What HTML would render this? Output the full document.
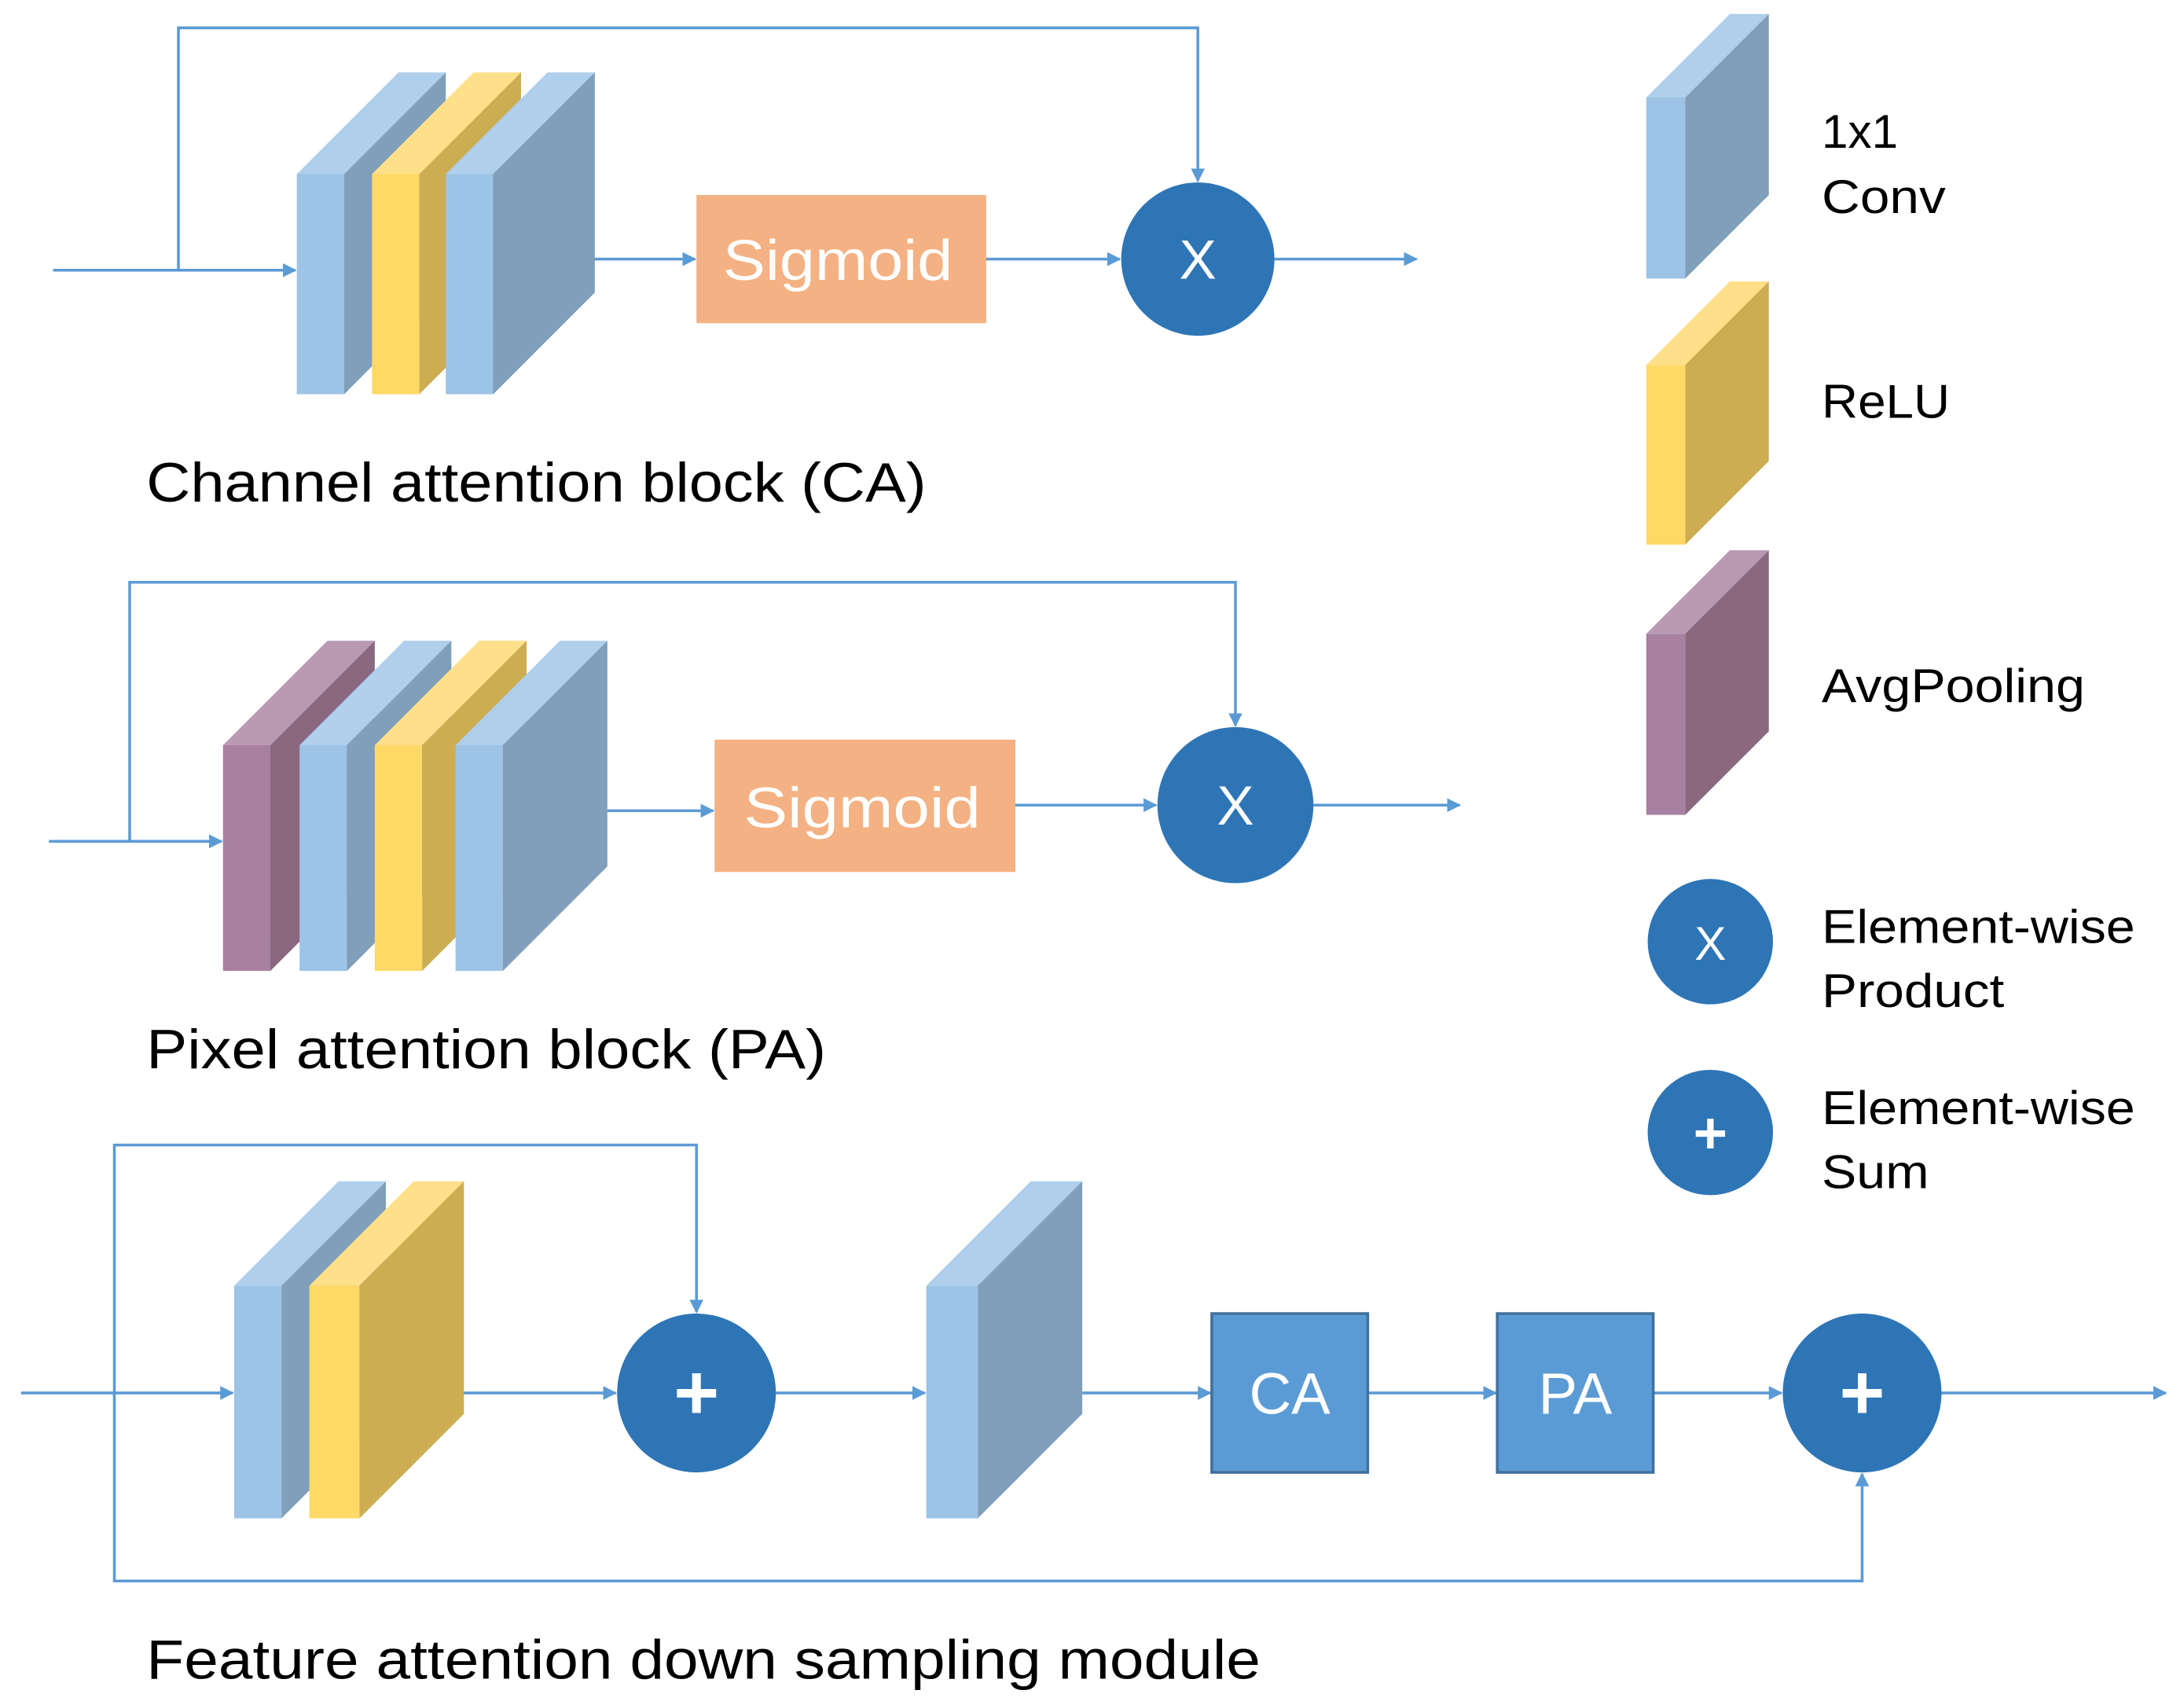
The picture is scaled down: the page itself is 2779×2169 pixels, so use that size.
<!DOCTYPE html>
<html><head><meta charset="utf-8"><style>
html,body{margin:0;padding:0;background:#fff;}
svg{display:block;}
text{font-family:"Liberation Sans",sans-serif;}
</style></head><body>
<svg width="2779" height="2169" viewBox="0 0 1568 1224" xmlns="http://www.w3.org/2000/svg">
<defs>
<marker id="a" markerWidth="10" markerHeight="10" refX="9" refY="5" orient="auto" markerUnits="userSpaceOnUse">
<path d="M0,0 L10,5 L0,10 z" fill="#5B9BD5"/></marker>
</defs>
<g stroke="#5B9BD5" stroke-width="2" fill="none">
<line x1="38" y1="194" x2="212" y2="194" marker-end="url(#a)"/>
<polyline points="128,194 128,20 860,20 860,130" marker-end="url(#a)"/>
<line x1="425" y1="186" x2="499" y2="186" marker-end="url(#a)"/>
<line x1="708" y1="186" x2="804" y2="186" marker-end="url(#a)"/>
<line x1="915" y1="186" x2="1017" y2="186" marker-end="url(#a)"/>
<line x1="35" y1="604" x2="159" y2="604" marker-end="url(#a)"/>
<polyline points="93,604 93,418 887,418 887,521" marker-end="url(#a)"/>
<line x1="436" y1="582" x2="512" y2="582" marker-end="url(#a)"/>
<line x1="729" y1="578" x2="830" y2="578" marker-end="url(#a)"/>
<line x1="943" y1="578" x2="1048" y2="578" marker-end="url(#a)"/>
<line x1="15" y1="1000" x2="167" y2="1000" marker-end="url(#a)"/>
<polyline points="82,1000 82,822 500,822 500,942" marker-end="url(#a)"/>
<polyline points="82,1000 82,1135 1337,1135 1337,1058" marker-end="url(#a)"/>
<line x1="330" y1="1000" x2="442" y2="1000" marker-end="url(#a)"/>
<line x1="557" y1="1000" x2="664" y2="1000" marker-end="url(#a)"/>
<line x1="777" y1="1000" x2="869" y2="1000" marker-end="url(#a)"/>
<line x1="982" y1="1000" x2="1074" y2="1000" marker-end="url(#a)"/>
<line x1="1187" y1="1000" x2="1279" y2="1000" marker-end="url(#a)"/>
<line x1="1394" y1="1000" x2="1555" y2="1000" marker-end="url(#a)"/>
</g>
<g id="blocks"></g>
<rect x="500" y="140" width="208" height="92" fill="#F4B183"/>
<text x="519" y="201" font-size="41" fill="#fff" textLength="165" lengthAdjust="spacingAndGlyphs">Sigmoid</text>
<rect x="513" y="531" width="216" height="95" fill="#F4B183"/>
<text x="534" y="594" font-size="41" fill="#fff" textLength="170" lengthAdjust="spacingAndGlyphs">Sigmoid</text>
<g fill="#2E75B6">
<circle cx="860" cy="186" r="55"/><circle cx="887" cy="578" r="56"/>
<circle cx="500" cy="1000" r="57"/><circle cx="1337" cy="1000" r="57"/>
<circle cx="1228" cy="676" r="45"/><circle cx="1228" cy="813" r="45"/>
</g>
<g fill="#fff" text-anchor="middle">
<text x="860" y="200" font-size="40">X</text>
<text x="887" y="592" font-size="40">X</text>
<text x="1228" y="689" font-size="34">X</text>
<text x="500" y="1019" font-size="56" font-weight="bold">+</text>
<text x="1337" y="1019" font-size="56" font-weight="bold">+</text>
<text x="1228" y="828" font-size="42" font-weight="bold">+</text>
</g>
<rect x="870" y="943" width="112" height="114" fill="#5B9BD5" stroke="#41719C" stroke-width="2"/>
<text x="926" y="1015" font-size="42" fill="#fff" text-anchor="middle">CA</text>
<rect x="1075" y="943" width="112" height="114" fill="#5B9BD5" stroke="#41719C" stroke-width="2"/>
<text x="1131" y="1015" font-size="42" fill="#fff" text-anchor="middle">PA</text>
<g font-size="40" fill="#000" lengthAdjust="spacingAndGlyphs">
<text x="105" y="360" textLength="560" lengthAdjust="spacingAndGlyphs">Channel attention block (CA)</text>
<text x="105" y="767" textLength="488" lengthAdjust="spacingAndGlyphs">Pixel attention block (PA)</text>
<text x="105" y="1205" textLength="800" lengthAdjust="spacingAndGlyphs">Feature attention down sampling module</text>
</g>
<g font-size="34" fill="#000">
<text x="1308" y="106">1x1</text><text x="1308" y="153" textLength="89" lengthAdjust="spacingAndGlyphs">Conv</text>
<text x="1308" y="300" textLength="92" lengthAdjust="spacingAndGlyphs">ReLU</text>
<text x="1308" y="504" textLength="189" lengthAdjust="spacingAndGlyphs">AvgPooling</text>
<text x="1308" y="677" textLength="225" lengthAdjust="spacingAndGlyphs">Element-wise</text><text x="1308" y="723" textLength="131" lengthAdjust="spacingAndGlyphs">Product</text>
<text x="1308" y="807" textLength="225" lengthAdjust="spacingAndGlyphs">Element-wise</text><text x="1308" y="853" textLength="77" lengthAdjust="spacingAndGlyphs">Sum</text>
</g>
<script>
(function(){
var C={b:["#9DC3E6","#7F9FBA","#AFCFEC"],y:["#FFD966","#CCAD52","#FFE08A"],p:["#A880A0","#8A6880","#B99AB2"]};
var g=document.getElementById('blocks'),ns="http://www.w3.org/2000/svg";
function poly(pts,f){var p=document.createElementNS(ns,'polygon');p.setAttribute('points',pts);p.setAttribute('fill',f);g.appendChild(p);}
function blk(x,y0,y1,w,d,c){var k=C[c];
poly([x,y0,x+w,y0,x+w,y1,x,y1].join(','),k[0]);
poly([x,y0,x+d,y0-d,x+w+d,y0-d,x+w,y0].join(','),k[2]);
poly([x+w,y0,x+w+d,y0-d,x+w+d,y1-d,x+w,y1].join(','),k[1]);}
blk(213,125,283,34,73,'b');blk(267,125,283,34,73,'y');blk(320,125,283,34,73,'b');
blk(160,535,697,34,75,'p');blk(215,535,697,34,75,'b');blk(269,535,697,34,75,'y');blk(327,535,697,34,75,'b');
blk(168,923,1090,34,75,'b');blk(222,923,1090,36,75,'y');
blk(665,923,1090,37,75,'b');
blk(1182,70,200,28,60,'b');blk(1182,262,391,28,60,'y');blk(1182,455,585,28,60,'p');
})();
</script>
</svg>
</body></html>
